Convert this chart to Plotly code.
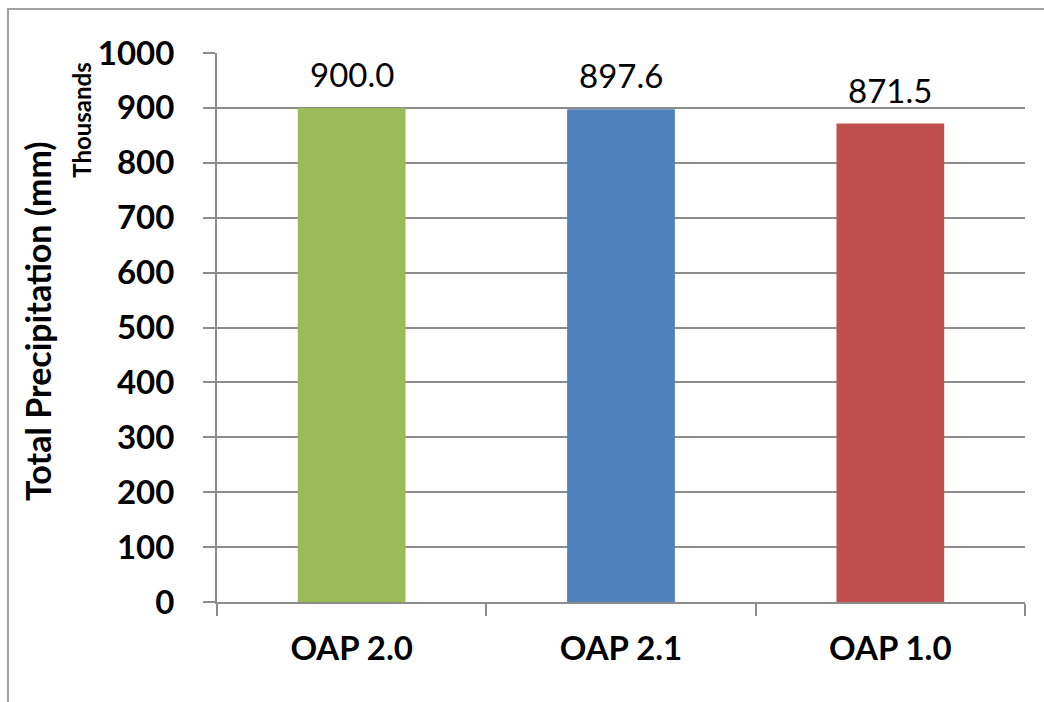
import plotly.graph_objects as go

# Total precipitation per model run (axis shown in thousands)
categories = ["OAP 2.0", "OAP 2.1", "OAP 1.0"]
precip_thousands = [900.0, 897.6, 871.5]
bar_colors = ["#9BBB59", "#4F81BD", "#C0504D"]
y_ticks = [0, 100, 200, 300, 400, 500, 600, 700, 800, 900, 1000]

FONT = "Lato"
GRID = "#8C8C8C"

fig = go.Figure(
    go.Bar(
        x=categories,
        y=precip_thousands,
        marker=dict(color=bar_colors, line=dict(width=0)),
        width=0.4,
        hoverinfo="x+y",
    )
)

# value labels above each bar
for cat, val in zip(categories, precip_thousands):
    fig.add_annotation(
        x=cat, y=val, text=f"{val:.1f}", showarrow=False,
        yanchor="bottom", yshift=12,
        font=dict(family=FONT, size=33, color="#000000"),
    )

# axis title and unit label
fig.add_annotation(
    xref="paper", yref="paper", x=-0.2215, y=0.512,
    xanchor="center", yanchor="middle",
    text="<b>Total Precipitation (mm)</b>", textangle=-90, showarrow=False,
    font=dict(family=FONT, size=34, color="#000000"),
)
fig.add_annotation(
    xref="paper", yref="paper", x=-0.168, y=0.877,
    xanchor="center", yanchor="middle",
    text="<b>Thousands</b>", textangle=-90, showarrow=False,
    font=dict(family=FONT, size=24, color="#000000"),
)

# chart frame
fig.add_shape(
    type="rect", xref="paper", yref="paper",
    x0=-0.2587, x1=1.04, y0=-0.2, y1=1.0801,
    line=dict(color="#A0A0A0", width=2), fillcolor="rgba(0,0,0,0)",
    layer="below",
)

fig.update_layout(
    width=1044, height=702,
    margin=dict(l=217, r=19, t=53, b=100),
    paper_bgcolor="white", plot_bgcolor="white",
    showlegend=False,
    font=dict(family=FONT, color="#000000"),
)
fig.update_xaxes(
    tickson="boundaries", ticks="outside", ticklen=12, tickwidth=2, tickcolor=GRID,
    showline=True, linecolor=GRID, linewidth=2,
    tickfont=dict(family=FONT, size=33, color="#000000", weight="bold"),
    ticklabelstandoff=16,
    showgrid=False,
)
fig.update_yaxes(
    range=[0, 1000], tickvals=y_ticks, ticks="outside", ticklen=12, tickwidth=2,
    tickcolor=GRID, showline=True, linecolor=GRID, linewidth=2,
    showgrid=True, gridcolor=GRID, gridwidth=2, zeroline=False,
    tickfont=dict(family=FONT, size=33, color="#000000", weight="bold"),
    ticklabelstandoff=22,
)

fig.write_html("out.html")
